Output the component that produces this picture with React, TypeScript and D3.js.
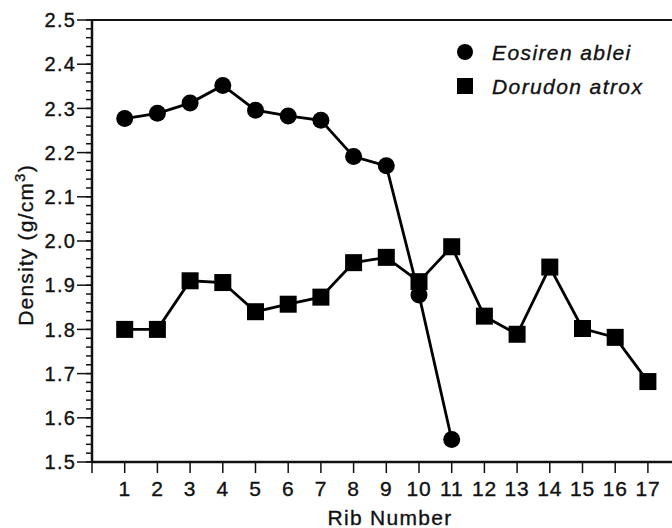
import React, { useEffect, useRef } from 'react';
import * as d3 from 'd3';

const ribs = [1, 2, 3, 4, 5, 6, 7, 8, 9, 10, 11, 12, 13, 14, 15, 16, 17];
const eosiren = [2.277, 2.289, 2.312, 2.352, 2.296, 2.283, 2.273, 2.191, 2.17, 1.878, 1.551];
const dorudon = [1.80, 1.80, 1.91, 1.906, 1.84, 1.857, 1.873, 1.951, 1.963, 1.908, 1.987, 1.83, 1.789, 1.941, 1.802, 1.782, 1.682];
const yTicks = [1.5, 1.6, 1.7, 1.8, 1.9, 2.0, 2.1, 2.2, 2.3, 2.4, 2.5];

const W = 672;
const H = 528;
const font = "'Liberation Sans', Arial, Helvetica, sans-serif";
const ink = "#111";

export default function App() {
  const svgRef = useRef<SVGSVGElement>(null);

  useEffect(() => {
    if (!svgRef.current) return;
    const svg = d3.select(svgRef.current);
    svg.selectAll("*").remove();

    const x = d3.scaleLinear().domain([0, 18]).range([92, 92 + 18 * 32.7]);
    const y = d3.scaleLinear().domain([1.5, 2.5]).range([462, 20]);

    // top frame line
    svg.append("line")
      .attr("x1", x(0)).attr("x2", W + 10)
      .attr("y1", y(2.5)).attr("y2", y(2.5))
      .attr("stroke", ink).attr("stroke-width", 2);

    // y axis
    const yAxis = svg.append("g").attr("transform", `translate(${x(0)},0)`);
    yAxis.append("line")
      .attr("y1", y(1.5)).attr("y2", y(2.5))
      .attr("stroke", ink).attr("stroke-width", 2.5);
    const minor = d3.range(1.5, 2.5001, 0.02);
    yAxis.selectAll("line.minor")
      .data(minor)
      .enter().append("line")
      .attr("class", "minor")
      .attr("x1", -6).attr("x2", 0)
      .attr("y1", d => y(d)).attr("y2", d => y(d))
      .attr("stroke", ink).attr("stroke-width", 1.5);
    yAxis.selectAll("line.major")
      .data(yTicks)
      .enter().append("line")
      .attr("class", "major")
      .attr("x1", -15).attr("x2", 0)
      .attr("y1", d => y(d)).attr("y2", d => y(d))
      .attr("stroke", ink).attr("stroke-width", 1.5);
    yAxis.selectAll("text")
      .data(yTicks)
      .enter().append("text")
      .attr("x", -16)
      .attr("y", d => y(d))
      .attr("dy", "0.36em")
      .attr("text-anchor", "end")
      .attr("font-family", font)
      .attr("font-size", 20)
      .attr("letter-spacing", 1.2)
      .attr("fill", ink)
      .attr("stroke", ink).attr("stroke-width", 0.35)
      .text(d => d3.format(".1f")(d));

    // x axis
    const xAxis = svg.append("g").attr("transform", `translate(0,${y(1.5)})`);
    xAxis.append("line")
      .attr("x1", x(0)).attr("x2", W + 10)
      .attr("stroke", ink).attr("stroke-width", 2.5);
    xAxis.selectAll("line.tick")
      .data([0, ...ribs])
      .enter().append("line")
      .attr("class", "tick")
      .attr("x1", d => x(d)).attr("x2", d => x(d))
      .attr("y1", 0).attr("y2", 11)
      .attr("stroke", ink).attr("stroke-width", 1.5);
    xAxis.selectAll("text")
      .data(ribs)
      .enter().append("text")
      .attr("x", d => x(d))
      .attr("y", 34)
      .attr("text-anchor", "middle")
      .attr("font-family", font)
      .attr("font-size", 21)
      .attr("letter-spacing", 0.8)
      .attr("fill", ink)
      .attr("stroke", ink).attr("stroke-width", 0.35)
      .text(d => String(d));

    // axis titles
    svg.append("text")
      .attr("x", 390).attr("y", 525)
      .attr("text-anchor", "middle")
      .attr("font-family", font)
      .attr("font-size", 21)
      .attr("letter-spacing", 1.3)
      .attr("fill", ink)
      .attr("stroke", ink).attr("stroke-width", 0.35)
      .text("Rib Number");

    const yt = svg.append("text")
      .attr("transform", `translate(33,245) rotate(-90)`)
      .attr("text-anchor", "middle")
      .attr("font-family", font)
      .attr("font-size", 21)
      .attr("letter-spacing", 1.2)
      .attr("fill", ink)
      .attr("stroke", ink).attr("stroke-width", 0.35);
    yt.append("tspan").text("Density (g/cm");
    yt.append("tspan").attr("dy", -8).attr("font-size", 15).text("3");
    yt.append("tspan").attr("dy", 8).text(")");

    const line = d3.line<number>()
      .x((_, i) => x(ribs[i]))
      .y(d => y(d));

    svg.append("path")
      .attr("d", line(dorudon))
      .attr("fill", "none")
      .attr("stroke", "#000")
      .attr("stroke-width", 2.8);
    svg.append("path")
      .attr("d", line(eosiren))
      .attr("fill", "none")
      .attr("stroke", "#000")
      .attr("stroke-width", 2.8);

    svg.selectAll("rect.dor")
      .data(dorudon)
      .enter().append("rect")
      .attr("class", "dor")
      .attr("x", (_, i) => x(ribs[i]) - 8.5)
      .attr("y", d => y(d) - 8.5)
      .attr("width", 17).attr("height", 17)
      .attr("fill", "#000");
    svg.selectAll("circle.eos")
      .data(eosiren)
      .enter().append("circle")
      .attr("class", "eos")
      .attr("cx", (_, i) => x(ribs[i]))
      .attr("cy", d => y(d))
      .attr("r", 8.5)
      .attr("fill", "#000");

    // legend
    const legend = [
      { label: "Eosiren ablei", shape: "circle", yy: 52 },
      { label: "Dorudon atrox", shape: "square", yy: 86 },
    ];
    legend.forEach(l => {
      if (l.shape === "circle") {
        svg.append("circle").attr("cx", 465).attr("cy", l.yy).attr("r", 8).attr("fill", "#000");
      } else {
        svg.append("rect").attr("x", 457).attr("y", l.yy - 8).attr("width", 16).attr("height", 16).attr("fill", "#000");
      }
      svg.append("text")
        .attr("x", 492).attr("y", l.yy)
        .attr("dy", "0.36em")
        .attr("font-family", font)
        .attr("font-size", 21)
        .attr("font-style", "italic")
        .attr("letter-spacing", 1.4)
        .attr("fill", ink)
        .attr("stroke", ink).attr("stroke-width", 0.35)
        .text(l.label);
    });
  }, []);

  return (
    <svg
      ref={svgRef}
      width={W}
      height={H}
      style={{ position: "absolute", left: 0, top: 0, background: "#fff" }}
    />
  );
}
